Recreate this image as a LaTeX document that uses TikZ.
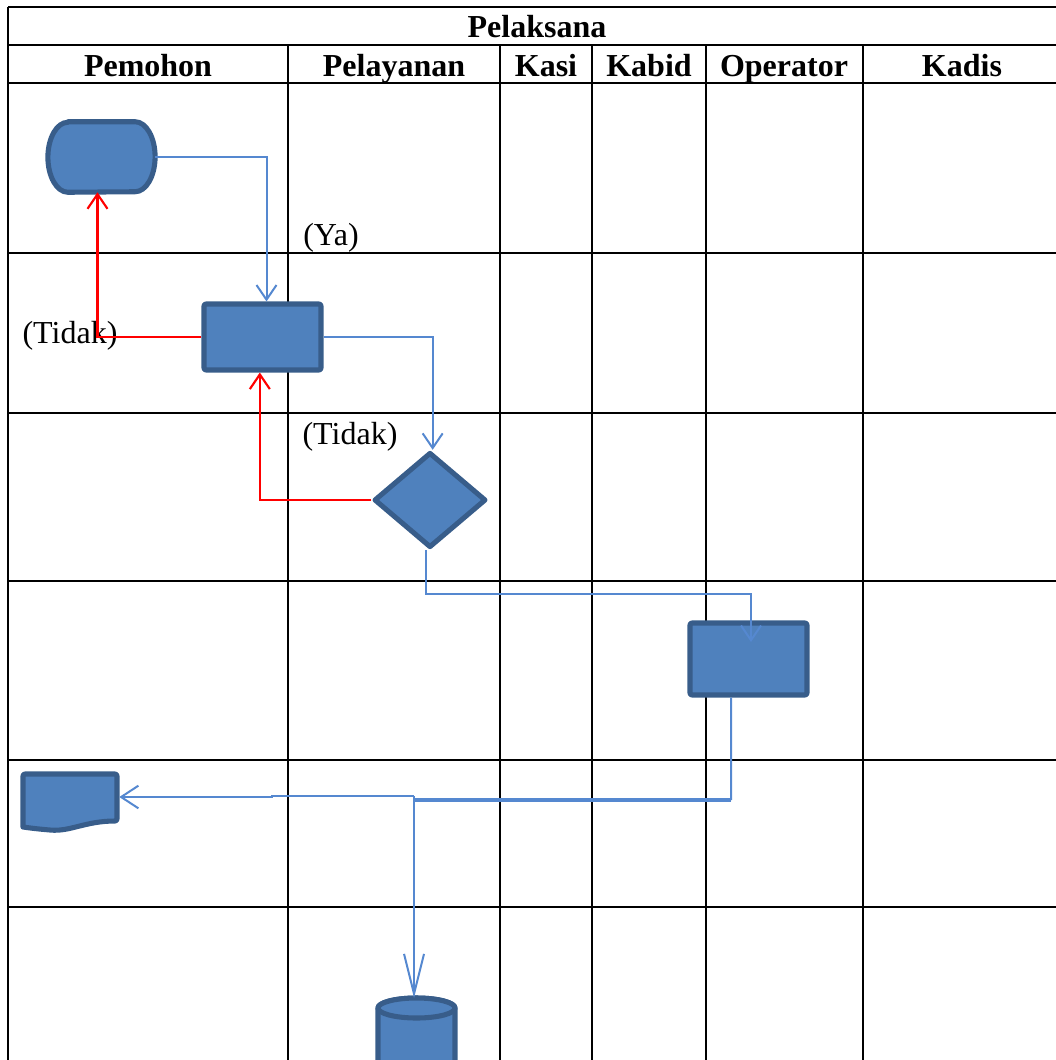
\documentclass[tikz,border=0pt]{standalone}
\usepackage{fontspec}
\setmainfont{Liberation Serif}
\usetikzlibrary{arrows.meta,shapes.geometric}
\definecolor{fillb}{HTML}{4F81BD}
\definecolor{edgeb}{HTML}{385D8A}
\definecolor{connb}{HTML}{5588D0}
\begin{document}
\begin{tikzpicture}[x=0.75pt,y=-0.75pt,
  grid/.style={line width=1.8pt,black},
  shp/.style={fill=fillb,draw=edgeb,line width=3.8pt,line join=round},
  proc/.style={shp,rectangle,rounded corners=1.5pt,inner sep=0pt},
  ghost/.style={rectangle,inner sep=0pt,draw=none,fill=none},
  bl/.style={draw=connb,line width=1.5pt},
  rd/.style={draw=red,line width=1.6pt},
  tipbox/.style={-{Straight Barb[length=11pt,width=15pt]}},
  tipdoc/.style={-{Straight Barb[length=13pt,width=17pt]}},
  tipcyl/.style={-{Straight Barb[length=30pt,width=15pt]}},
  hdr/.style={inner sep=0pt,anchor=base,font=\fontsize{24}{28}\selectfont\bfseries},
  lbl/.style={inner sep=0pt,anchor=base,font=\fontsize{24}{28}\selectfont}]
\useasboundingbox (0,0) rectangle (1056,1060);
\clip (0,0) rectangle (1056,1060);
% grid
\foreach \yy in {7,45,83,253,413,581,760,907}
  \draw[grid] (8,\yy) -- (1070,\yy);
\draw[grid] (8,7) -- (8,1075);
\foreach \xx in {288,500,592,706,863}
  \draw[grid] (\xx,45) -- (\xx,1075);
% headers
\node[hdr] (hP) at (537,37) {Pelaksana};
\node[hdr] (h1) at (148,76) {Pemohon};
\node[hdr] (h2) at (394,76) {Pelayanan};
\node[hdr] (h3) at (546,76) {Kasi};
\node[hdr] (h4) at (649,76) {Kabid};
\node[hdr] (h5) at (784,76) {Operator};
\node[hdr] (h6) at (962,76) {Kadis};
% terminator
\node[ghost,minimum width=80pt,minimum height=52.5pt] (term) at (101.5,157) {};
\draw[shp] ([xshift=15pt]term.north west) -- ([xshift=-15pt]term.north east)
  arc[start angle=90,end angle=-90,x radius=15pt,y radius=26.25pt]
  -- ([xshift=15pt]term.south west)
  arc[start angle=270,end angle=90,x radius=15pt,y radius=26.25pt] -- cycle;
% process boxes
\node[proc,minimum width=87.75pt,minimum height=49.5pt] (box1) at (262.5,337) {};
\node[proc,minimum width=87.75pt,minimum height=54pt] (box2) at (748.5,659) {};
% decision
\node[shp,diamond,inner sep=0pt,minimum width=84pt,minimum height=71.5pt] (dia) at (430,500) {};
% document
\node[ghost,minimum width=73.5pt,minimum height=40pt] (doc) at (70,797) {};
\draw[shp,rounded corners=1.5pt] (23,774) -- (117,774) -- (117,821)
  [sharp corners] .. controls (85,821) and (70,832) .. (50,830)
  .. controls (38,829) and (30,828) .. (23,827) [rounded corners=1.5pt] -- cycle;
% cylinder
\coordinate (cyl) at (414,998);
\draw[shp] (378,1008) -- (378,1080) -- (455,1080) -- (455,1008)
  arc[start angle=0,end angle=180,x radius=28.9pt,y radius=7.5pt] -- cycle;
\draw[shp] (416.5,1008) ellipse[x radius=28.9pt,y radius=7.5pt];
% labels
\node[lbl] (ya) at (331,245) {(Ya)};
\node[lbl] (t1) at (70,343) {(Tidak)};
\node[lbl] (t2) at (350,444) {(Tidak)};
% connectors
\draw[bl,tipbox] (term.east) -| ([xshift=3pt]box1.north);
\draw[rd,tipbox] (box1.west) -| ([xshift=-3pt]term.south);
\draw[bl,tipbox] (box1.east) -| ([xshift=2pt]dia.north);
\draw[rd,tipbox] (dia.west) -| ([xshift=-2pt]box1.south);
\coordinate (e1) at (751,594);
\coordinate (e2) at (751,642);
\draw[bl,tipbox] ([xshift=-3pt]dia.south) |- (e1) -- (e2);
\coordinate (f1) at (731,800);
\coordinate (f2) at (413,800);
\coordinate (j) at (414,796);
\draw[bl] ([xshift=-13pt]box2.south) -- (f1);
\draw[bl,line width=3.4pt] (f1) -- (f2);
\draw[bl,tipdoc] (j) -- (272,796) -- (272,797) -- (doc.east);
\draw[bl,tipcyl] (j) -- (cyl);
\end{tikzpicture}
\end{document}
